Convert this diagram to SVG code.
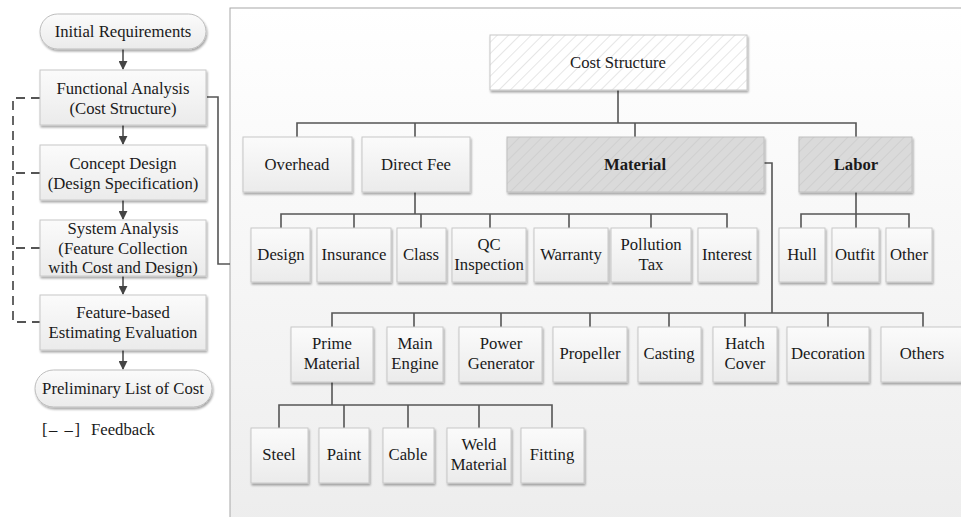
<svg xmlns="http://www.w3.org/2000/svg" width="961" height="517" viewBox="0 0 961 517">
  <defs>
    <linearGradient id="panelFill" x1="0" y1="0" x2="0" y2="1">
      <stop offset="0" stop-color="#ffffff"/>
      <stop offset="1" stop-color="#ededed"/>
    </linearGradient>
    <linearGradient id="boxFill" x1="0" y1="0" x2="0" y2="1">
      <stop offset="0" stop-color="#fbfbfb"/>
      <stop offset="1" stop-color="#ebebeb"/>
    </linearGradient>
    <pattern id="hatchLight" width="8" height="8" patternUnits="userSpaceOnUse" patternTransform="rotate(45)">
      <rect width="8" height="8" fill="#ffffff"/>
      <line x1="0" y1="0" x2="0" y2="8" stroke="#e6e6e6" stroke-width="2"/>
    </pattern>
    <pattern id="hatchGray" width="8" height="8" patternUnits="userSpaceOnUse" patternTransform="rotate(45)">
      <rect width="8" height="8" fill="#dadada"/>
      <line x1="0" y1="0" x2="0" y2="8" stroke="#cfcfcf" stroke-width="2"/>
    </pattern>
    <filter id="shadow" x="-10%" y="-10%" width="125%" height="130%">
      <feGaussianBlur in="SourceAlpha" stdDeviation="1.2"/>
      <feOffset dx="1" dy="1.5" result="b"/>
      <feComponentTransfer><feFuncA type="linear" slope="0.35"/></feComponentTransfer>
      <feMerge><feMergeNode/><feMergeNode in="SourceGraphic"/></feMerge>
    </filter>
    <marker id="arrow" viewBox="0 0 10 10" refX="9" refY="5" markerWidth="9" markerHeight="9" markerUnits="userSpaceOnUse" orient="auto">
      <path d="M0,0 L10,5 L0,10 Z" fill="#444"/>
    </marker>
  </defs>
  <style>
    text { font-family: "Liberation Serif", "DejaVu Serif", serif; font-size: 16.7px; fill: #1a1a1a; text-anchor: middle; }
    .bold { font-weight: bold; }
    .box { fill: url(#boxFill); stroke: #c8c8c8; stroke-width: 1; filter: url(#shadow); }
    .pill { fill: url(#boxFill); stroke: #bdbdbd; stroke-width: 1; filter: url(#shadow); }
    .hl { fill: url(#hatchLight); stroke: #c8c8c8; stroke-width: 1; filter: url(#shadow); }
    .hg { fill: url(#hatchGray); stroke: #c0c0c0; stroke-width: 1; filter: url(#shadow); }
    .wire { fill: none; stroke: #555; stroke-width: 1.6; }
    .flow { fill: none; stroke: #444; stroke-width: 1.5; marker-end: url(#arrow); }
    .dash { fill: none; stroke: #555; stroke-width: 1.8; stroke-dasharray: 9 6; }
  </style>

  <!-- background panel holding the cost breakdown tree -->
  <rect x="230" y="8" width="740" height="520" fill="url(#panelFill)" stroke="#a8a8a8" stroke-width="1"/>

  <!-- connectors -->
  <g id="connectors">
    <!-- process flow arrows -->
    <line class="flow" x1="123" y1="49" x2="123" y2="69"/>
    <line class="flow" x1="123" y1="125" x2="123" y2="144"/>
    <line class="flow" x1="123" y1="200" x2="123" y2="219"/>
    <line class="flow" x1="123" y1="276" x2="123" y2="294"/>
    <line class="flow" x1="123" y1="350" x2="123" y2="369"/>
    <!-- feedback loop -->
    <path class="dash" d="M40,98 H13 V322 H40"/>
    <path class="dash" d="M40,173 H13"/>
    <path class="dash" d="M40,248 H13"/>
    <!-- link from functional analysis into the tree panel -->
    <path class="wire" d="M207,97 H218 V264 H230"/>
    <!-- root to level 1 -->
    <path class="wire" d="M618,90 V123"/>
    <path class="wire" d="M297,137 V123 H856 V137"/>
    <path class="wire" d="M415,123 V137"/>
    <path class="wire" d="M635,123 V137"/>
    <!-- direct fee children -->
    <path class="wire" d="M415,192 V214"/>
    <path class="wire" d="M281,228 V214 H727 V228"/>
    <path class="wire" d="M354,214 V228 M421,214 V228 M490,214 V228 M569,214 V228 M651,214 V228"/>
    <!-- labor children -->
    <path class="wire" d="M856,192 V214"/>
    <path class="wire" d="M801,228 V214 H909 V228 M856,214 V228"/>
    <!-- material children -->
    <path class="wire" d="M764,163 H772 V313"/>
    <path class="wire" d="M332,327 V313 H923 V327"/>
    <path class="wire" d="M414,313 V327 M501,313 V327 M590,313 V327 M669,313 V327 M745,313 V327 M828,313 V327"/>
    <!-- prime material children -->
    <path class="wire" d="M332,382 V405"/>
    <path class="wire" d="M279,428 V405 H552 V428"/>
    <path class="wire" d="M344,405 V428 M408,405 V428 M479,405 V428"/>
  </g>

  <!-- process flow -->
  <g id="initial-requirements">
    <rect class="pill" x="40" y="14" width="166" height="35" rx="17.5"/>
    <text x="123" y="37">Initial Requirements</text>
  </g>
  <g id="functional-analysis">
    <rect class="box" x="40" y="70" width="166" height="55"/>
    <text x="123" y="94">Functional Analysis</text>
    <text x="123" y="114">(Cost Structure)</text>
  </g>
  <g id="concept-design">
    <rect class="box" x="40" y="145" width="166" height="55"/>
    <text x="123" y="169">Concept Design</text>
    <text x="123" y="189">(Design Specification)</text>
  </g>
  <g id="system-analysis">
    <rect class="box" x="40" y="220" width="166" height="56"/>
    <text x="123" y="234">System Analysis</text>
    <text x="123" y="254">(Feature Collection</text>
    <text x="123" y="273">with Cost and Design)</text>
  </g>
  <g id="feature-evaluation">
    <rect class="box" x="40" y="295" width="166" height="55"/>
    <text x="123" y="318">Feature-based</text>
    <text x="123" y="338">Estimating Evaluation</text>
  </g>
  <g id="preliminary-list">
    <rect class="pill" x="35" y="370" width="177" height="37" rx="18.5"/>
    <text x="123" y="394">Preliminary List of Cost</text>
  </g>
  <g id="legend">
    <text x="42" y="435" style="text-anchor:start"><tspan letter-spacing="1.5">[– –]</tspan><tspan x="91">Feedback</tspan></text>
  </g>

  <!-- cost tree -->
  <g id="cost-structure">
    <rect class="hl" x="490" y="35" width="257" height="55"/>
    <text x="618" y="68">Cost Structure</text>
  </g>

  <g id="overhead">
    <rect class="box" x="243" y="137" width="109" height="55"/>
    <text x="297" y="170">Overhead</text>
  </g>
  <g id="direct-fee">
    <rect class="box" x="362" y="137" width="108" height="55"/>
    <text x="416" y="170">Direct Fee</text>
  </g>
  <g id="material">
    <rect class="hg" x="507" y="137" width="257" height="55"/>
    <text class="bold" x="635" y="170">Material</text>
  </g>
  <g id="labor">
    <rect class="hg" x="799" y="137" width="113" height="55"/>
    <text class="bold" x="856" y="170">Labor</text>
  </g>

  <g id="design">
    <rect class="box" x="251" y="228" width="59" height="54"/>
    <text x="281" y="260">Design</text>
  </g>
  <g id="insurance">
    <rect class="box" x="317" y="228" width="74" height="54"/>
    <text x="354" y="260">Insurance</text>
  </g>
  <g id="class">
    <rect class="box" x="397" y="228" width="49" height="54"/>
    <text x="421" y="260">Class</text>
  </g>
  <g id="qc-inspection">
    <rect class="box" x="452" y="228" width="74" height="54"/>
    <text x="489" y="250">QC</text>
    <text x="489" y="270">Inspection</text>
  </g>
  <g id="warranty">
    <rect class="box" x="534" y="228" width="74" height="54"/>
    <text x="571" y="260">Warranty</text>
  </g>
  <g id="pollution-tax">
    <rect class="box" x="611" y="228" width="80" height="54"/>
    <text x="651" y="250">Pollution</text>
    <text x="651" y="270">Tax</text>
  </g>
  <g id="interest">
    <rect class="box" x="698" y="228" width="59" height="54"/>
    <text x="727" y="260">Interest</text>
  </g>

  <g id="hull">
    <rect class="box" x="779" y="228" width="46" height="54"/>
    <text x="802" y="260">Hull</text>
  </g>
  <g id="outfit">
    <rect class="box" x="832" y="228" width="47" height="54"/>
    <text x="855" y="260">Outfit</text>
  </g>
  <g id="other">
    <rect class="box" x="886" y="228" width="46" height="54"/>
    <text x="909" y="260">Other</text>
  </g>

  <g id="prime-material">
    <rect class="box" x="291" y="327" width="82" height="55"/>
    <text x="332" y="349">Prime</text>
    <text x="332" y="369">Material</text>
  </g>
  <g id="main-engine">
    <rect class="box" x="387" y="327" width="56" height="55"/>
    <text x="415" y="349">Main</text>
    <text x="415" y="369">Engine</text>
  </g>
  <g id="power-generator">
    <rect class="box" x="459" y="327" width="83" height="55"/>
    <text x="501" y="349">Power</text>
    <text x="501" y="369">Generator</text>
  </g>
  <g id="propeller">
    <rect class="box" x="553" y="327" width="74" height="55"/>
    <text x="590" y="359">Propeller</text>
  </g>
  <g id="casting">
    <rect class="box" x="638" y="327" width="63" height="55"/>
    <text x="669" y="359">Casting</text>
  </g>
  <g id="hatch-cover">
    <rect class="box" x="713" y="327" width="64" height="55"/>
    <text x="745" y="349">Hatch</text>
    <text x="745" y="369">Cover</text>
  </g>
  <g id="decoration">
    <rect class="box" x="787" y="327" width="82" height="55"/>
    <text x="828" y="359">Decoration</text>
  </g>
  <g id="others">
    <rect class="box" x="881" y="327" width="84" height="55"/>
    <text x="922" y="359">Others</text>
  </g>

  <g id="steel">
    <rect class="box" x="251" y="428" width="57" height="55"/>
    <text x="279" y="460">Steel</text>
  </g>
  <g id="paint">
    <rect class="box" x="319" y="428" width="50" height="55"/>
    <text x="344" y="460">Paint</text>
  </g>
  <g id="cable">
    <rect class="box" x="383" y="428" width="51" height="55"/>
    <text x="408" y="460">Cable</text>
  </g>
  <g id="weld-material">
    <rect class="box" x="447" y="428" width="64" height="55"/>
    <text x="479" y="450">Weld</text>
    <text x="479" y="470">Material</text>
  </g>
  <g id="fitting">
    <rect class="box" x="521" y="428" width="63" height="55"/>
    <text x="552" y="460">Fitting</text>
  </g>
</svg>
